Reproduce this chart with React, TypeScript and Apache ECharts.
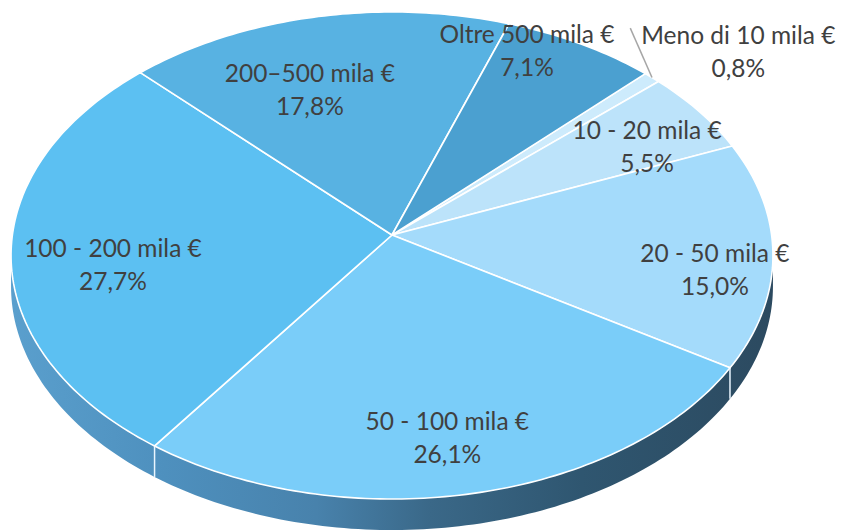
import React, { useEffect, useRef } from "react";
import * as echarts from "echarts";

// ---- data ----
const CATEGORIES = [
  "Meno di 10 mila €",
  "10 - 20 mila €",
  "20 - 50 mila €",
  "50 - 100 mila €",
  "100 - 200 mila €",
  "200–500 mila €",
  "Oltre 500 mila €",
];
const SHARES = [0.8, 5.5, 15.0, 26.1, 27.7, 17.8, 7.1];

// ---- style ----
const SLICE_COLORS = ["#CDEBFC", "#BCE3FA", "#A4DBFB", "#7ACDF9", "#5CC0F2", "#58B2E2", "#4BA0D0"];
// label placement: radial factor and angular shift (deg) from slice mid-angle
const LABEL_RADIUS = [1.272, 0.791, 0.852, 0.789, 0.737, 0.68, 0.902];
const LABEL_SHIFT = [3.6, 3.5, 4.7, 1.4, -4.5, -7.0, -7.3];

const CX = 392;
const CY = 235;
const RX = 379.6;
const RY = 241.8;
const PERSP = 0.0842;
const DEPTH = 31;
const START_DEG = 45; // clockwise from 12 o'clock
const TEXT_COLOR = "#404040";
const FONT = "Lato, 'Open Sans', sans-serif";

const rad = (d: number) => (d * Math.PI) / 180;
function project(r: number, deg: number): number[] {
  const X = r * Math.sin(rad(deg));
  const Z = r * Math.cos(rad(deg));
  const den = 1 + PERSP * Z;
  return [CX + (RX * X) / den, CY - (RY * Z) / den];
}
const FRONT_A = (Math.acos(-PERSP) * 180) / Math.PI;
const FRONT_B = 360 - FRONT_A;

function sliceAngles(i: number, total: number, values: number[]): number[] {
  let before = 0;
  for (let j = 0; j < i; j++) before += values[j];
  const a = START_DEG + (before / total) * 360;
  const b = a + (values[i] / total) * 360;
  return [a, b];
}
function arcPoints(r: number, a: number, b: number): number[][] {
  const n = Math.max(2, Math.ceil(b - a) + 1);
  const pts: number[][] = [];
  for (let k = 0; k < n; k++) pts.push(project(r, a + ((b - a) * k) / (n - 1)));
  return pts;
}

const SIDE_GRADIENT = {
  type: "linear",
  x: CX - RX,
  y: 0,
  x2: CX + RX,
  y2: 0,
  global: true,
  colorStops: [
    { offset: 0, color: "#5A9FCD" },
    { offset: 0.2, color: "#4E90BE" },
    { offset: 0.4, color: "#4882AC" },
    { offset: 0.55, color: "#3A6888" },
    { offset: 0.75, color: "#2F5670" },
    { offset: 1, color: "#2C4A60" },
  ],
};

export default function App() {
  const ref = useRef<HTMLDivElement>(null);
  useEffect(() => {
    if (!ref.current) return;
    const chart = echarts.init(ref.current, null, { renderer: "svg" });
    const total = SHARES.reduce((s, v) => s + v, 0);
    const data = SHARES.map((v, i) => ({ name: CATEGORIES[i], value: v }));

    const renderBody = (params: any, api: any) => {
      const i = params.dataIndex;
      const [a, b] = sliceAngles(i, total, SHARES.map((_, j) => (j === i ? api.value(0) : SHARES[j])));
      const children: any[] = [];
      const s = Math.max(a, FRONT_A);
      const e = Math.min(b, FRONT_B);
      if (e > s) {
        const top = arcPoints(1, s, e);
        const bottom = top.map(([x, y]) => [x, y + DEPTH]).reverse();
        children.push({
          type: "polygon",
          shape: { points: top.concat(bottom) },
          style: { fill: SIDE_GRADIENT, stroke: null },
        });
        if (a > FRONT_A && a < FRONT_B) {
          const p = project(1, a);
          children.push({
            type: "line",
            shape: { x1: p[0], y1: p[1], x2: p[0], y2: p[1] + DEPTH },
            style: { stroke: "#EAF6FF", lineWidth: 1.5 },
          });
        }
      }
      children.push({
        type: "polygon",
        shape: { points: [[CX, CY]].concat(arcPoints(1, a, b)) },
        style: { fill: SLICE_COLORS[i], stroke: "#FFFFFF", lineWidth: 1.6, lineJoin: "round" },
      });
      return { type: "group", children };
    };

    const renderLabels = (params: any, api: any) => {
      const i = params.dataIndex;
      const v = api.value(0);
      const [a, b] = sliceAngles(i, total, SHARES);
      const mid = (a + b) / 2;
      const [lx, ly] = project(LABEL_RADIUS[i], mid + LABEL_SHIFT[i]);
      const pct = v.toFixed(1).replace(".", ",") + "%";
      const children: any[] = [];
      if (LABEL_RADIUS[i] > 1) {
        const p = project(1, mid);
        children.push({
          type: "line",
          shape: { x1: p[0], y1: p[1], x2: lx - 108, y2: ly - 22 },
          style: { stroke: "#A6A6A6", lineWidth: 1.5 },
        });
      }
      const txt = (t: string, y: number) => ({
        type: "text",
        x: lx,
        y,
        style: {
          text: t,
          fill: TEXT_COLOR,
          fontSize: 24.5,
          fontFamily: FONT,
          align: "center",
          verticalAlign: "middle",
          textAlign: "center",
          textVerticalAlign: "middle",
        },
      });
      children.push(txt(params.name ?? CATEGORIES[i], ly - 16));
      children.push(txt(pct, ly + 17));
      return { type: "group", children };
    };

    chart.setOption({
      animation: false,
      backgroundColor: "#FFFFFF",
      series: [
        { type: "custom", coordinateSystem: "none", renderItem: renderBody, data, silent: true },
        { type: "custom", coordinateSystem: "none", renderItem: renderLabels, data, silent: true, z: 5 },
      ],
    });
    return () => chart.dispose();
  }, []);
  return (
    <div
      ref={ref}
      style={{ position: "fixed", left: 0, top: 0, width: 847, height: 532, background: "#fff" }}
    />
  );
}
